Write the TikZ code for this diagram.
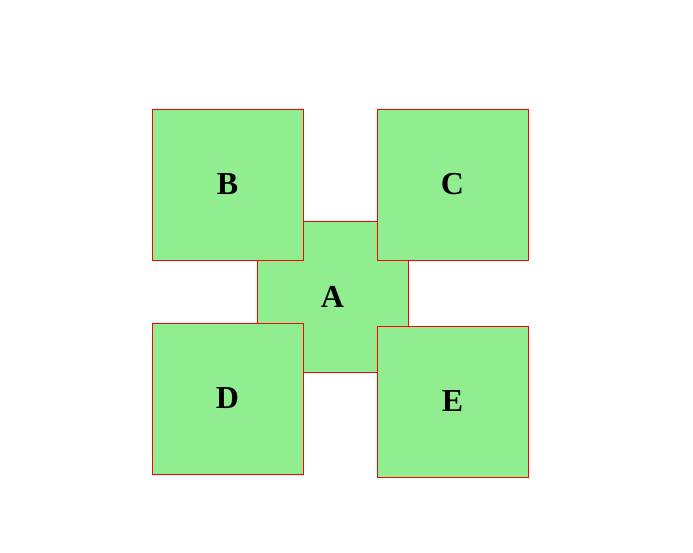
\documentclass[tikz,border=0pt]{standalone}
\usepackage{fontspec}
\setmainfont{Liberation Serif}
\usepackage{tikz}
\definecolor{leafgreen}{RGB}{144,238,144}
\definecolor{edgered}{RGB}{255,0,0}

\begin{document}
\begin{tikzpicture}[x=1pt, y=-1pt, every node/.style={font=\bfseries\fontsize{32}{36}\selectfont, align=center},
 tile/.style={draw=edgered, line width=1pt, fill=leafgreen, minimum width=151pt, minimum height=151pt, inner sep=0pt, outer sep=0pt}]
\useasboundingbox (0,0) rectangle (693,552);
\node[tile] (a) at (332.5,296.5) {A};
\node[tile] (b) at (227.5,184.5) {B};
\node[tile] (c) at (452.5,184.5) {C};
\node[tile] (d) at (227.5,398.5) {D};
\node[tile] (e) at (452.5,401.5) {E};
\end{tikzpicture}
\end{document}
